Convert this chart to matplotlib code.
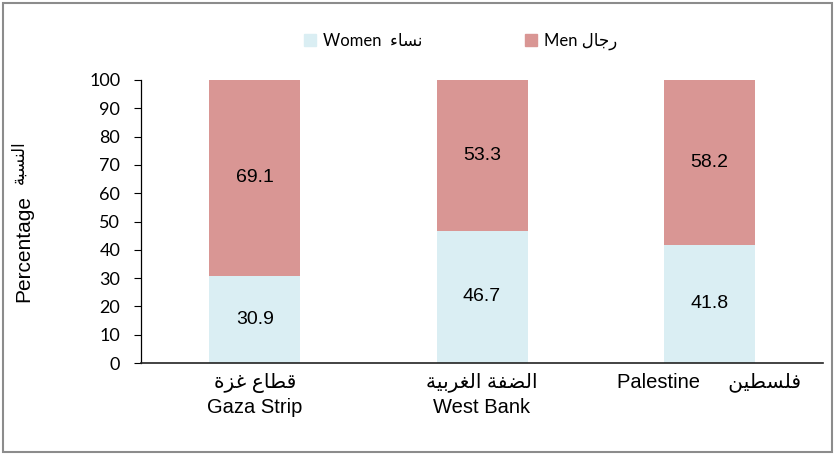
import matplotlib
matplotlib.use('Agg')
import matplotlib.pyplot as plt
from matplotlib.patches import Rectangle, Patch

# Arabic strings are written in visual order with presentation forms,
# since matplotlib does no shaping / bidi
AR_WOMEN = '\uFE80\uFE8E\uFEB4\uFEE7'                      # نساء
AR_MEN = '\uFEDD\uFE8E\uFE9F\uFEAD'                        # رجال
AR_PCT = '\uFE94\uFE92\uFEB4\uFEE8\uFEDF\uFE8D'            # النسبة
AR_GAZA = '\uFE93\uFEB0\uFECF \uFEC9\uFE8E\uFEC4\uFED7'     # قطاع غزة
AR_WB = ('\uFE94\uFEF4\uFE91\uFEAE\uFED0\uFEDF\uFE8D '
         '\uFE94\uFED4\uFEC0\uFEDF\uFE8D')                   # الضفة الغربية
AR_PAL = '\uFEE6\uFEF4\uFEC4\uFEB4\uFEE0\uFED3'            # فلسطين

regions = ['Gaza Strip', 'West Bank', 'Palestine']
tick_labels = [AR_GAZA + '\nGaza Strip', AR_WB + '\nWest Bank',
               'Palestine     ' + AR_PAL + '\n']
women = [30.9, 46.7, 41.8]
men = [69.1, 53.3, 58.2]

WOMEN_C = '#DAEEF3'
MEN_C = '#D99694'
ARIAL = ['Liberation Sans', 'DejaVu Sans']
CALI = ['Lato', 'DejaVu Sans']

fig = plt.figure(figsize=(8.36, 4.54), dpi=100)
ax = fig.add_axes([0.1687, 0.2004, 0.8158, 0.6234])

x = list(range(len(regions)))
b1 = ax.bar(x, women, width=0.4, color=WOMEN_C)
b2 = ax.bar(x, men, width=0.4, bottom=women, color=MEN_C)
for bars in (b1, b2):
    ax.bar_label(bars, fmt='%.1f', label_type='center', fontsize=14,
                 family=ARIAL, color='black')

ax.set_xlim(-0.5, 2.5)
ax.set_ylim(0, 100)
ax.set_yticks(range(0, 101, 10))
ax.tick_params(axis='y', direction='out', length=5, width=0.8, labelsize=13, pad=10)
for t in ax.get_yticklabels():
    t.set_family(CALI)
ax.set_xticks(x)
ax.set_xticklabels(tick_labels, fontsize=14.5, family=ARIAL, linespacing=1.35)
ax.tick_params(axis='x', length=0, pad=7)

for s in ('top', 'right'):
    ax.spines[s].set_visible(False)
ax.spines['left'].set_linewidth(0.9)
ax.spines['bottom'].set_linewidth(1.2)
ax.spines['bottom'].set_color('#222222')

# y title: English and Arabic parts, rotated
fig.text(24 / 836, 1 - 248 / 454, 'Percentage', rotation=90, fontsize=15,
         family=ARIAL, ha='center', va='center')
fig.text(19 / 836, 1 - 162 / 454, AR_PCT, rotation=90, fontsize=12,
         family=ARIAL, ha='center', va='center')

handles = [Patch(color=WOMEN_C, label='Women  ' + AR_WOMEN),
           Patch(color=MEN_C, label='Men ' + AR_MEN)]
fig.legend(handles=handles, loc='center', bbox_to_anchor=(0.551, 0.909), ncol=2,
           frameon=False, prop={'family': CALI, 'size': 12},
           handlelength=0.7, handleheight=0.7, handletextpad=0.4, columnspacing=6.2)

fig.patches.append(Rectangle((3 / 836, 2 / 454), 829 / 836, 449 / 454,
                             transform=fig.transFigure, fill=False,
                             edgecolor='#8c8c8c', linewidth=1.5))

fig.savefig('out.png', dpi=100, facecolor='white')
